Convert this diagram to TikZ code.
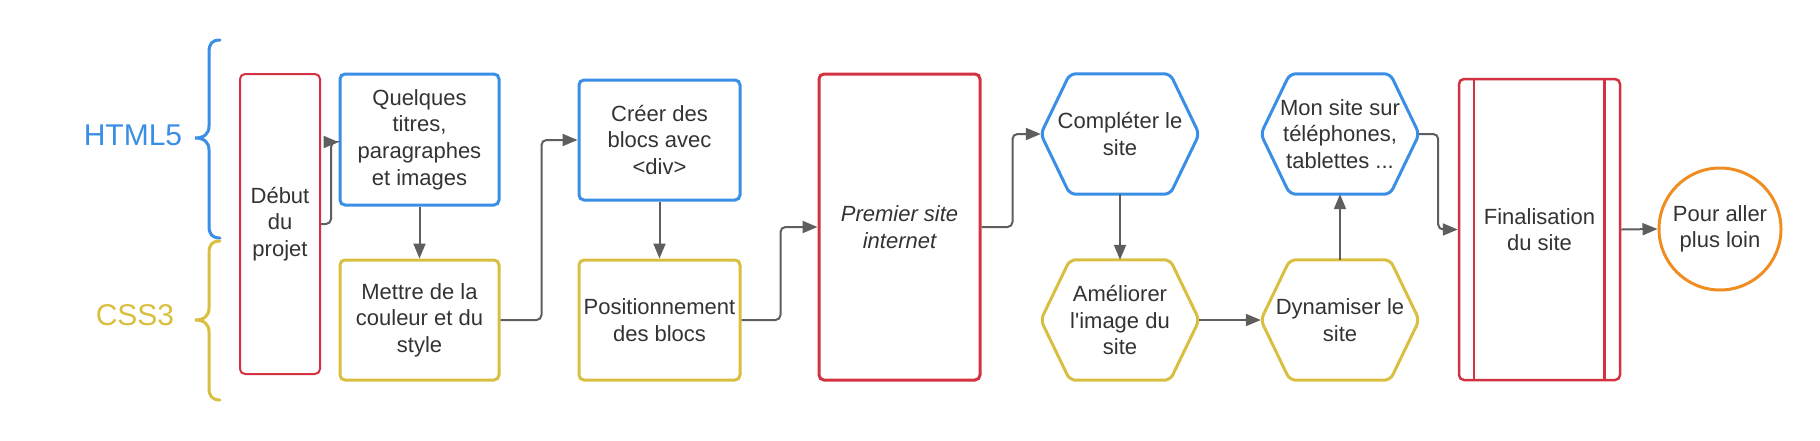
\documentclass[tikz,border=0pt]{standalone}
\usepackage{fontspec}
\setmainfont{Liberation Sans}[Ligatures=TeXOff]
\usetikzlibrary{arrows.meta}
\definecolor{cblue}{HTML}{3A8EE6}
\definecolor{cyellow}{HTML}{D9BF3F}
\definecolor{cred}{HTML}{D33240}
\definecolor{corange}{HTML}{EF8D22}
\definecolor{cgray}{HTML}{5E5E5E}
\definecolor{ctext}{HTML}{333333}
\tikzset{
  txt/.style={text=ctext, font=\fontsize{22}{26.6}\selectfont},
  box/.style={draw, rounded corners=5pt, inner sep=0pt, align=center, txt},
  bluebox/.style={box, draw=cblue, line width=3pt},
  yellowbox/.style={box, draw=cyellow, line width=3pt},
  hexnode/.style={inner sep=0pt, minimum width=158pt, minimum height=120pt, align=center, txt},
  hexline/.style={line width=3pt, rounded corners=6pt, line join=round},
  conn/.style={draw=cgray, line width=2pt, rounded corners=5pt,
    -{Triangle[length=15pt,width=12pt]}},
  bracelabel/.style={font=\fontsize{30}{32}\selectfont},
}
\newcommand{\hexdraw}[2]{%
  \draw[hexline,#2] (#1.west) -- ([xshift=29pt]#1.north west) -- ([xshift=-29pt]#1.north east)
    -- (#1.east) -- ([xshift=-29pt]#1.south east) -- ([xshift=29pt]#1.south west) -- cycle;}
\begin{document}
\begin{tikzpicture}[x=1pt,y=-1pt]
\useasboundingbox (0,0) rectangle (1820,440);
% braces
\draw[cblue, line width=3pt, line cap=round]
  (220,40) .. controls (212,40) and (209,44) .. (209,52) -- (209,126)
  .. controls (209,134) and (204,138) .. (195,138)
  .. controls (204,138) and (209,142) .. (209,150) -- (209,226)
  .. controls (209,234) and (212,238) .. (220,238);
\draw[cyellow, line width=3pt, line cap=round]
  (220,241) .. controls (212,241) and (209,245) .. (209,253) -- (209,308)
  .. controls (209,316) and (204,320) .. (195,320)
  .. controls (204,320) and (209,324) .. (209,332) -- (209,388)
  .. controls (209,396) and (212,400) .. (220,400);
\node[bracelabel, text=cblue] (html) at (133,135) {HTML5};
\node[bracelabel, text=cyellow] (css) at (135,315) {CSS3};
% nodes
\node[box, draw=cred, line width=2pt, minimum width=80pt, minimum height=300pt] (debut) at (280,224) {Début\\du\\projet};
\node[bluebox, minimum width=159pt, minimum height=131pt] (quel) at (419.5,139.5) {Quelques\\titres,\\paragraphes\\et images};
\node[yellowbox, minimum width=159pt, minimum height=120pt] (mettre) at (419.5,320) {Mettre de la\\couleur et du\\style};
\node[bluebox, minimum width=161pt, minimum height=120pt] (creer) at (659.5,140) {Créer des\\blocs avec\\<div>};
\node[yellowbox, minimum width=161pt, minimum height=120pt] (pos) at (659.5,320) {Positionnement\\des blocs};
\node[box, draw=cred, line width=3pt, minimum width=161pt, minimum height=306pt] (premier) at (899.5,227) {\itshape Premier site\\\itshape internet};
\node[hexnode] (compl) at (1120,134) {Compléter le\\site};
\node[hexnode] (amel) at (1120,320) {Améliorer\\l'image du\\site};
\node[hexnode] (mon) at (1340,134) {Mon site sur\\téléphones,\\tablettes ...};
\node[hexnode] (dyn) at (1340,320) {Dynamiser le\\site};
\hexdraw{compl}{cblue}
\hexdraw{mon}{cblue}
\hexdraw{amel}{cyellow}
\hexdraw{dyn}{cyellow}
\node[box, draw=cred, line width=2.5pt, minimum width=161pt, minimum height=301pt] (final) at (1539.5,229.5) {Finalisation\\du site};
\draw[cred, line width=2.5pt] ([xshift=16pt]final.north west) -- ([xshift=16pt]final.south west);
\draw[cred, line width=2.5pt] ([xshift=-17pt]final.north east) -- ([xshift=-17pt]final.south east);
\node[circle, draw=corange, line width=3pt, minimum size=122pt, inner sep=0pt, align=center, txt] (loin) at (1720,229) {Pour aller\\plus loin};
% connectors
\draw[conn] (debut.east) -- ++(10,0) |- ([yshift=-2.5pt]quel.west);
\draw[conn] (quel.south) -- (mettre.north);
\draw[conn] (mettre.east) -- ++(41,0) |- (creer.west);
\draw[conn] (creer.south) -- (pos.north);
\draw[conn] (pos.east) -- ++(39,0) |- (premier.west);
\draw[conn] (premier.east) -- ++(31,0) |- (compl.west);
\draw[conn] (compl.south) -- (amel.north);
\draw[conn] (amel.east) -- (dyn.west);
\draw[conn] (dyn.north) -- (mon.south);
\draw[conn] (mon.east) -- ++(19,0) |- (final.west);
\draw[conn] (final.east) -- (loin.west);
\end{tikzpicture}
\end{document}
